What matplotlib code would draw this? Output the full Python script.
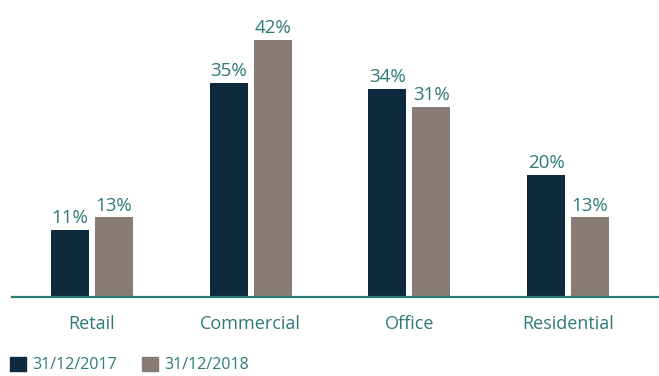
import numpy as np
import matplotlib.pyplot as plt
from matplotlib.patches import Patch

categories = ['Retail', 'Commercial', 'Office', 'Residential']
share_2017 = [11, 35, 34, 20]
share_2018 = [13, 42, 31, 13]
series_names = ['31/12/2017', '31/12/2018']

dark = '#0f2a3c'
taupe = '#887a74'
teal = '#2d7a79'

plt.rcParams['font.family'] = ['Open Sans', 'DejaVu Sans']

fig = plt.figure(figsize=(6.59, 3.76), dpi=100)
ax = fig.add_axes([12 / 659, 0.21, 647 / 659, 0.79])

x = np.arange(len(categories))
w = 0.24
off = 0.139
b1 = ax.bar(x - off, share_2017, w, color=dark)
b2 = ax.bar(x + off, share_2018, w, color=taupe)

for bars in (b1, b2):
    for rect in bars:
        h = rect.get_height()
        ax.annotate(f'{h:.0f}%', (rect.get_x() + rect.get_width() / 2, h),
                    xytext=(0, 2), textcoords='offset points',
                    ha='center', va='bottom', color=teal, fontsize=13.5)

ax.set_xlim(-0.504, 3.573)
ax.set_ylim(0, 48.5)
ax.set_xticks(x)
ax.set_xticklabels(categories, color=teal, fontsize=13)
ax.tick_params(axis='x', length=0, pad=13)
ax.set_yticks([])
for s in ['top', 'right', 'left']:
    ax.spines[s].set_visible(False)
ax.spines['bottom'].set_color(teal)
ax.spines['bottom'].set_linewidth(1.6)

handles = [Patch(color=dark), Patch(color=taupe)]
leg = fig.legend(handles, series_names, loc='lower left', bbox_to_anchor=(0.0, -0.018),
                 ncol=2, frameon=False, fontsize=11.5, handlelength=1.0, handleheight=1.0,
                 handletextpad=0.4, columnspacing=1.6, borderaxespad=0.2)
for t in leg.get_texts():
    t.set_color(teal)

fig.savefig('out.png', dpi=100)
